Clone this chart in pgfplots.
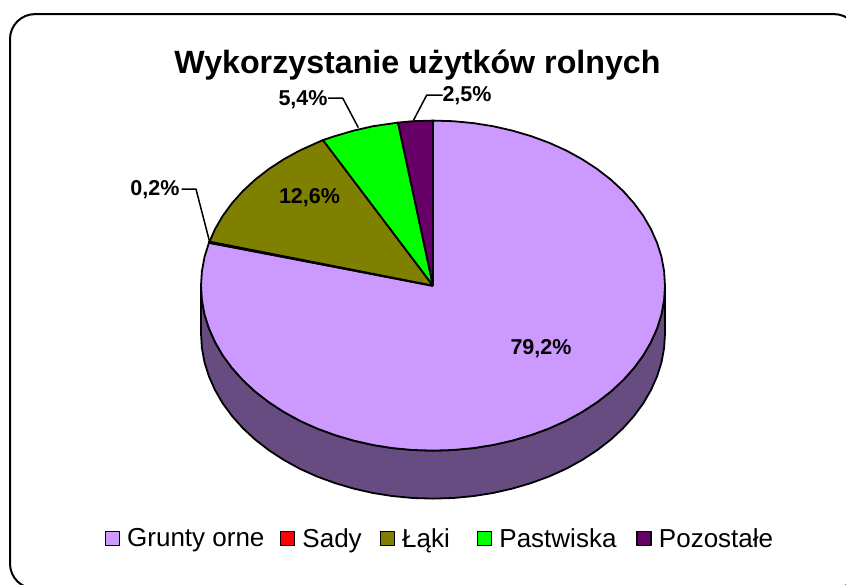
\documentclass[border=0pt]{standalone}
\usepackage{pgfplots}
\pgfplotsset{compat=1.18}
\usepackage{fontspec}
\setmainfont{Liberation Sans}
\definecolor{cGrunty}{HTML}{CC99FF}
\definecolor{cSady}{HTML}{FF0000}
\definecolor{cLaki}{HTML}{808000}
\definecolor{cPast}{HTML}{00FF00}
\definecolor{cPoz}{HTML}{660066}
\definecolor{cSide}{HTML}{664C80}
\newcommand{\lgap}{\rule{7pt}{0pt}\vphantom{Łąg}}
\begin{document}
\begin{tikzpicture}
\useasboundingbox (0,0) rectangle (846pt,584pt);
\begin{axis}[
  at={(0,0)}, anchor=south west,
  width=846pt, height=584pt, scale only axis,
  xmin=0, xmax=846, ymin=-0.6, ymax=583.4, y dir=reverse,
  hide axis, clip=false,
  legend columns=-1,
  legend style={draw=none, fill=none, at={(axis cs:104.5,538)}, anchor=west,
    font=\fontsize{26}{28}\selectfont, inner xsep=0pt, inner ysep=0pt,
    /tikz/every even column/.append style={column sep=0pt},
    /tikz/every odd column/.append style={column sep=0pt},
    nodes={inner xsep=0pt, inner ysep=1pt}},
  legend image code/.code={\draw[#1, line width=1.5pt] (0pt,-7pt) rectangle (14pt,7pt);},
  every axis plot/.append style={line width=1.8pt, line join=round},
]
% side wall
\addplot[fill=cSide, draw=black, forget plot] coordinates {
(665,285)(664.1,299.4)(661.5,313.7)(657.1,327.7)(651,341.4)(643.3,354.7)(633.9,367.5)(623.1,379.6)(610.7,391.1)(597,401.7)(582.1,411.4)(566.1,420.2)(549,427.9)(531,434.5)(512.3,440)(493,444.4)(473.3,447.5)(453.2,449.4)(433,450)(412.8,449.4)(392.7,447.5)(373,444.4)(353.7,440)(335,434.5)(317,427.9)(299.9,420.2)(283.9,411.4)(269,401.7)(255.3,391.1)(242.9,379.6)(232.1,367.5)(222.7,354.7)(215,341.4)(208.9,327.7)(204.5,313.7)(201.9,299.4)(201,285)
(201,333)(201.9,347.4)(204.5,361.7)(208.9,375.7)(215,389.4)(222.7,402.7)(232.1,415.5)(242.9,427.6)(255.3,439.1)(269,449.7)(283.9,459.4)(299.9,468.2)(317,475.9)(335,482.5)(353.7,488)(373,492.4)(392.7,495.5)(412.8,497.4)(433,498)(453.2,497.4)(473.3,495.5)(493,492.4)(512.3,488)(531,482.5)(549,475.9)(566.1,468.2)(582.1,459.4)(597,449.7)(610.7,439.1)(623.1,427.6)(633.9,415.5)(643.3,402.7)(651,389.4)(657.1,375.7)(661.5,361.7)(664.1,347.4)(665,333)(665,285)
};
% Grunty orne 79,2
\addplot[fill=cGrunty, draw=black] coordinates {
(433,285)(433,120)(453.2,120.6)(473.3,122.5)(493,125.6)(512.3,130)(531,135.5)(549,142.1)(566.1,149.8)(582.1,158.6)(597,168.3)(610.7,178.9)(623.1,190.4)(633.9,202.5)(643.3,215.3)(651,228.6)(657.1,242.3)(661.5,256.3)(664.1,270.6)(665,285)(664.1,299.4)(661.5,313.7)(657.1,327.7)(651,341.4)(643.3,354.7)(633.9,367.5)(623.1,379.6)(610.7,391.1)(597,401.7)(582.1,411.4)(566.1,420.2)(549,427.9)(531,434.5)(512.3,440)(493,444.4)(473.3,447.5)(453.2,449.4)(433,450)(412.8,449.4)(392.7,447.5)(373,444.4)(353.7,440)(335,434.5)(317,427.9)(299.9,420.2)(283.9,411.4)(269,401.7)(255.3,391.1)(242.9,379.6)(232.1,367.5)(222.7,354.7)(215,341.4)(208.9,327.7)(204.5,313.7)(201.9,299.4)(201,285)(201.9,270.6)(204.5,256.3)(208.9,242.3)(433,285)
};
\addlegendentry{\lgap Grunty orne\rule{15.5pt}{0pt}}
% Sady 0,2
\addplot[fill=cSady, draw=black, line width=2.6pt] coordinates {(433,285)(209,241.5)(209.5,241)(433,285)};
\addlegendentry{\lgap Sady\rule{18pt}{0pt}}
% Laki 12,6
\addplot[fill=cLaki, draw=black] coordinates {
(433,285)(209.5,241)(215,228.6)(222.7,215.3)(232.1,202.5)(242.9,190.4)(255.3,178.9)(269,168.3)(283.9,158.6)(299.9,149.8)(317,142.1)(323,139.5)(433,285)};
\addlegendentry{\lgap Łąki\rule{27pt}{0pt}}
% Pastwiska 5,4
\addplot[fill=cPast, draw=black] coordinates {
(433,285)(323,139.5)(335,135.5)(353.7,130)(373,125.6)(398,122)(433,285)};
\addlegendentry{\lgap Pastwiska\rule{20pt}{0pt}}
% Pozostale 2,5
\addplot[fill=cPoz, draw=black] coordinates {
(433,285)(398,122)(412.8,120.6)(433,120)(433,285)};
\addlegendentry{\lgap Pozostałe}
% leader lines
\addplot[black, line width=1.5pt, forget plot] coordinates {(181.5,188.5)(196,188.5)(209.3,240)};
\addplot[black, line width=1.5pt, forget plot] coordinates {(328,97.5)(342.7,97.5)(358.3,127)};
\addplot[black, line width=1.5pt, forget plot] coordinates {(442.7,94.5)(426.7,94.5)(413.3,120)};
% texts
\node[font=\bfseries\fontsize{32.2}{36}\selectfont, anchor=base] at (axis cs:417.5,72.5) {Wykorzystanie użytków rolnych};
\node[font=\bfseries\fontsize{21.5}{24}\selectfont] at (axis cs:155,189.5) {0,2\%};
\node[font=\bfseries\fontsize{21.5}{24}\selectfont] at (axis cs:303,99.5) {5,4\%};
\node[font=\bfseries\fontsize{21.5}{24}\selectfont] at (axis cs:467,95.5) {2,5\%};
\node[font=\bfseries\fontsize{21.5}{24}\selectfont] at (axis cs:309.5,197.5) {12,6\%};
\node[font=\bfseries\fontsize{21.5}{24}\selectfont] at (axis cs:541,348.5) {79,2\%};
% frame (runs past the right and bottom edges of the picture)
\draw[black, line width=2pt, rounded corners=25pt] (axis cs:10,13.5) rectangle (axis cs:859,588);
\end{axis}
\end{tikzpicture}
\end{document}
